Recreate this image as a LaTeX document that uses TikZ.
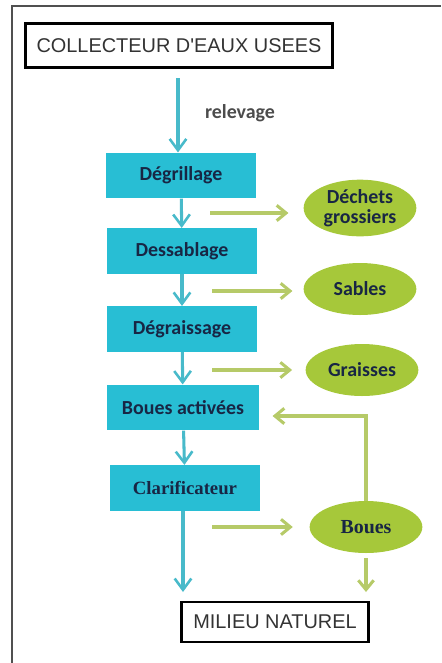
\documentclass[tikz,border=0pt]{standalone}
\usepackage{fontspec}
\usepackage{tikz}
\usetikzlibrary{arrows.meta,positioning,shapes.geometric,calc}
\newfontfamily\boxfont{Carlito}
\newfontfamily\capsfont{Liberation Sans}
\newfontfamily\seriffont{Liberation Serif}
\definecolor{cyanbox}{RGB}{40,190,212}
\definecolor{navytext}{RGB}{24,38,68}
\definecolor{olive}{RGB}{166,200,58}
\definecolor{olivearrow}{RGB}{182,202,104}
\definecolor{cyanarrow}{RGB}{72,186,202}
\definecolor{framegrey}{RGB}{80,80,80}

\begin{document}
\begin{tikzpicture}[
    x=0.03cm, y=-0.03cm,
    stage/.style={fill=cyanbox, minimum width=4.5cm, minimum height=1.37cm, inner sep=0pt,
                  text=navytext, font=\boxfont\bfseries\fontsize{17}{17}\selectfont},
    waste/.style={ellipse, fill=olive, minimum width=3.38cm, minimum height=1.56cm, inner sep=0pt,
                  align=center, text=navytext, font=\boxfont\bfseries\fontsize{17}{17}\selectfont},
    endbox/.style={draw=black, line width=2.8pt, fill=white, inner sep=3pt,
                   font=\capsfont\fontsize{17}{17}\selectfont, text=black!80},
    flow/.style={-{Straight Barb[length=3.4mm, width=5mm, line width=2.2pt]}, line width=2.6pt, cyanarrow},
    byprod/.style={-{Straight Barb[length=2.8mm, width=4.6mm, line width=2.6pt]}, line width=3.2pt, olivearrow}
]
    \useasboundingbox (0,0) rectangle (441,663);
    \draw[framegrey, line width=1pt] (12,663) -- (12,6) -- (441,6);

    \node[endbox, minimum width=9.2cm, minimum height=1.3cm] (collecteur) at (179,45.5) {COLLECTEUR D'EAUX USEES};
    \node[font=\boxfont\bfseries\fontsize{17}{17}\selectfont, text=black!70] (relevage) at (240,113) {relevage};

    \node[stage] (degrillage) at (181,175.5) {Dégrillage};
    \node[stage] (dessablage) at (182,251) {Dessablage};
    \node[stage] (degraissage) at (182,329) {Dégraissage};
    \node[stage, minimum width=4.56cm] (boues_act) at (183,407.5) {Boues activées};
    \node[stage, font=\seriffont\bfseries\fontsize{16}{16}\selectfont] (clarif) at (185,488) {Clarificateur};

    \node[waste, minimum height=1.7cm] (dechets) at (360,208) {Déchets\\grossiers};
    \node[waste] (sables) at (360,289) {Sables};
    \node[waste] (graisses) at (362,370) {Graisses};
    \node[waste, font=\seriffont\bfseries\fontsize{17}{17}\selectfont] (boues) at (366,527) {Boues};

    \node[endbox, minimum width=5.6cm, minimum height=1.2cm, line width=2.3pt] (milieu) at (275,622) {MILIEU NATUREL};

    % main line
    \coordinate (releve) at (178,78);
    \draw[flow] (releve) -- (releve |- degrillage.north);
    \draw[flow] (degrillage) -- (dessablage);
    \draw[flow] (dessablage) -- (degraissage);
    \draw[flow] (degraissage) -- (boues_act);
    \draw[flow] (boues_act) -- (clarif);
    \coordinate (rejet) at (183,592);
    \draw[flow] (clarif.south -| rejet) -- (rejet);

    % by-products
    \coordinate (o1) at (210,213);
    \coordinate (o2) at (212,291);
    \coordinate (o3) at (212,370);
    \coordinate (o4) at (212,527);
    \draw[byprod] (o1) -- ([xshift=-0.45cm]dechets.west |- o1);
    \draw[byprod] (o2) -- ([xshift=-0.33cm]sables.west |- o2);
    \draw[byprod] (o3) -- ([xshift=-0.4cm]graisses.west |- o3);
    \draw[byprod] (o4) -- ([xshift=-0.5cm]boues.west |- o4);

    % recirculation and release
    \coordinate (retour) at (366,416);
    \draw[byprod] (boues.north) -- (retour) -- ([xshift=0.4cm]boues_act.east |- retour);
    \coordinate (sortie) at (366,592);
    \draw[byprod] ([yshift=-0.15cm]boues.south) -- (sortie);
\end{tikzpicture}
\end{document}
